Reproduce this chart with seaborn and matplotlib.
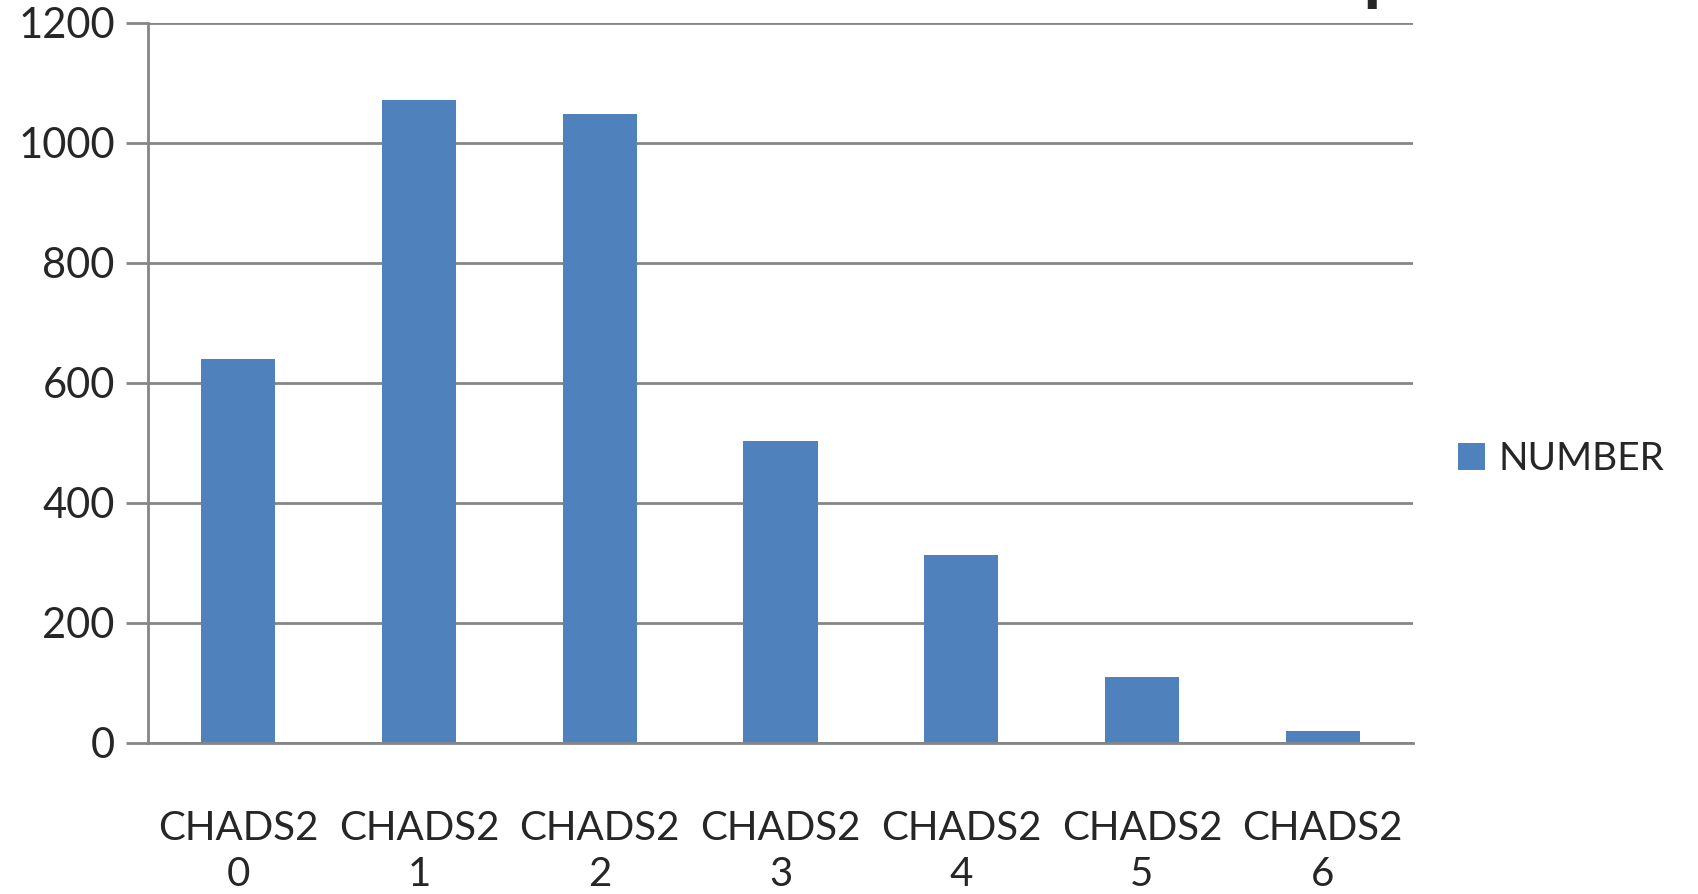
import numpy as np
import pandas as pd
import matplotlib
matplotlib.use("Agg")
import matplotlib.pyplot as plt
import seaborn as sns

# data
scores = ["0", "1", "2", "3", "4", "5", "6"]
counts = [640, 1072, 1049, 503, 314, 110, 20]
tick_labels = ["CHADS2\n" + s for s in scores]
series_name = "NUMBER"
title_text = "CHADS2 SCORE in 3000 AF patients"

sns.set_style("white")
plt.rcParams["font.family"] = ["Lato", "DejaVu Sans"]

df = pd.DataFrame({"score": tick_labels, "count": counts})

grid_col = "#868686"
bar_col = "#4F81BD"

# the slide title is cut off at the top of the reference: draw on a taller
# canvas and crop the extra strip off afterwards
W, H, EXTRA = 1698, 894, 100
HT = H + EXTRA


def fy(px_from_top):
    # pixel row of the final image -> figure fraction of the tall canvas
    return 1 - (px_from_top + EXTRA) / HT


fig = plt.figure(figsize=(W / 100, HT / 100), dpi=100)
ax = fig.add_axes([148 / W, fy(743), (1413 - 148) / W, fy(23) - fy(743)])

sns.barplot(data=df, x="score", y="count", color=bar_col, width=0.41,
            saturation=1, label=series_name, ax=ax, linewidth=0)

ax.set_ylim(0, 1200)
ax.set_xlim(-0.5, 6.5)
ax.set_yticks(range(0, 1201, 200))
ax.yaxis.grid(True, color=grid_col, linewidth=2)
ax.set_axisbelow(True)
ax.set_xlabel("")
ax.set_ylabel("")

for side in ["top", "right"]:
    ax.spines[side].set_visible(False)
for side in ["left", "bottom"]:
    ax.spines[side].set_color(grid_col)
    ax.spines[side].set_linewidth(2)

ax.set_xticks(range(len(tick_labels)))
ax.set_xticklabels(tick_labels, fontsize=29, linespacing=1.3)
ax.set_xticks(np.arange(-0.5, len(tick_labels), 1), minor=True)
ax.tick_params(axis="x", which="major", length=0, pad=48)
ax.tick_params(axis="x", which="minor", length=17, width=2, color=grid_col, direction="out")
ax.tick_params(axis="y", length=16, width=2, color=grid_col, labelsize=30, pad=8, left=True)

leg = ax.legend(loc="center left", bbox_to_anchor=(0.838, fy(459)), bbox_transform=fig.transFigure,
                frameon=False, fontsize=28, handlelength=0.7, handleheight=0.7, handletextpad=0.35)

fig.text(0.045, fy(-8), title_text, fontsize=72, ha="left", va="baseline")

fig.canvas.draw()
img = np.asarray(fig.canvas.buffer_rgba())[EXTRA:, :, :]
plt.imsave("out.png", img)
